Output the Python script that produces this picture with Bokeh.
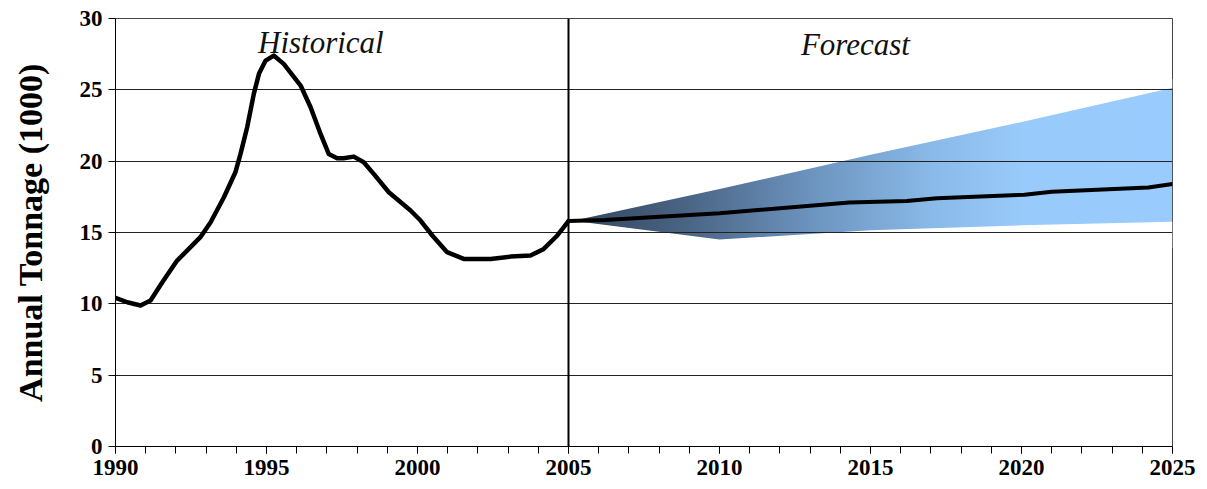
import numpy as np
from bokeh.plotting import figure
from bokeh.models import Span, Label, FixedTicker, Range1d
from bokeh.embed import file_html
from bokeh.resources import INLINE

# Historical annual tonnage (thousands)
hist_years = [1990.0, 1990.39, 1990.83, 1991.16, 1991.55, 1992.04, 1992.37, 1992.81,
              1993.15, 1993.59, 1993.97, 1994.14, 1994.36, 1994.58, 1994.75, 1994.97,
              1995.24, 1995.57, 1996.13, 1996.46, 1996.79, 1997.06, 1997.34, 1997.55,
              1997.89, 1998.22, 1998.55, 1999.05, 1999.77, 2000.1, 2000.49, 2000.98,
              2001.53, 2002.42, 2003.08, 2003.74, 2004.18, 2004.63, 2005.0]
hist_vals = [10.42, 10.11, 9.88, 10.23, 11.51, 13.03, 13.73, 14.67,
             15.72, 17.47, 19.22, 20.51, 22.38, 24.72, 26.12, 27.05,
             27.4, 26.82, 25.3, 23.78, 21.91, 20.51, 20.2, 20.2,
             20.32, 19.92, 19.11, 17.82, 16.54, 15.84, 14.79, 13.62,
             13.15, 13.15, 13.31, 13.38, 13.85, 14.79, 15.8]

# Forecast (central estimate)
fc_years = [2005.0, 2006.2, 2010.0, 2014.3, 2016.2, 2017.2, 2020.1, 2021.0, 2024.2, 2025.0]
fc_vals = [15.8, 15.88, 16.35, 17.1, 17.2, 17.4, 17.65, 17.85, 18.15, 18.4]

# Forecast uncertainty range
band_years = [2005, 2010, 2015, 2020, 2025]
band_high = [15.8, 18.1, 20.5, 22.8, 25.2]
band_low = [15.8, 14.45, 15.1, 15.45, 15.7]

x_ticks = [1990, 1995, 2000, 2005, 2010, 2015, 2020, 2025]
y_ticks = [0, 5, 10, 15, 20, 25, 30]
split_year = 2005

SERIF = "Liberation Serif"

p = figure(width=1207, height=489,
           x_range=Range1d(1990, 2025), y_range=Range1d(0, 30),
           output_backend="svg", toolbar_location=None,
           min_border_left=115, min_border_right=35,
           min_border_top=18, min_border_bottom=43)
p.background_fill_color = "white"
p.border_fill_color = "white"
p.outline_line_color = "#444444"
p.outline_line_width = 1

# Gradient fill for the forecast range: dark slate on the left fading to light blue
stop_pos = np.array([0.0, 0.2, 0.4, 0.6, 0.75, 1.0])
stop_rgb = np.array([[0x33, 0x45, 0x5d],
                     [0x4b, 0x66, 0x86],
                     [0x6c, 0x94, 0xbf],
                     [0x8a, 0xba, 0xe8],
                     [0x98, 0xca, 0xfb],
                     [0x9a, 0xcc, 0xff]], dtype=float)
ncol = 400
t = np.linspace(0, 1, ncol)
rgba = np.zeros((2, ncol, 4), dtype=np.uint8)
for c in range(3):
    rgba[:, :, c] = np.interp(t, stop_pos, stop_rgb[:, c]).astype(np.uint8)
rgba[:, :, 3] = 255
img = rgba.view(dtype=np.uint32).reshape((2, ncol))

y_bot = min(band_low)
y_top = max(band_high)
x0 = band_years[0]
x1 = band_years[-1]
pad = 1.0
p.image_rgba(image=[img], x=x0, y=y_bot, dw=x1 - x0, dh=y_top - y_bot, level="image")

# Trim the gradient to the band shape
p.patch(band_years + [x1 + pad, x1 + pad, x0],
        band_high + [band_high[-1], y_top + 0.5, y_top + 0.5],
        fill_color="white", line_color="white", line_width=1.5, level="image")
p.patch(band_years + [x1 + pad, x1 + pad, x0],
        band_low + [band_low[-1], y_bot - 0.5, y_bot - 0.5],
        fill_color="white", line_color="white", line_width=1.5, level="image")

# Grid
p.xgrid.grid_line_color = None
p.ygrid.grid_line_color = "#222222"
p.ygrid.grid_line_width = 1
p.ygrid.ticker = FixedTicker(ticks=y_ticks)

# Right-hand border of the plot area
p.add_layout(Span(location=x1, dimension="height", line_color="#444444", line_width=1))

# Divider between history and forecast
p.add_layout(Span(location=split_year, dimension="height",
                  line_color="black", line_width=2))

# Series
p.line(hist_years, hist_vals, line_color="black", line_width=4.5,
       line_join="round", line_cap="round")
p.line(fc_years, fc_vals, line_color="black", line_width=4,
       line_join="round", line_cap="round")

# Section labels
p.add_layout(Label(x=1996.8, y=28.35, text="Historical", text_align="center",
                   text_baseline="alphabetic", text_font=SERIF,
                   text_font_style="italic", text_font_size="31px", text_color="#111111"))
p.add_layout(Label(x=2014.5, y=28.15, text="Forecast", text_align="center",
                   text_baseline="alphabetic", text_font=SERIF,
                   text_font_style="italic", text_font_size="31px", text_color="#111111"))

# Axes
p.xaxis.ticker = FixedTicker(ticks=x_ticks, minor_ticks=list(range(1990, 2026)))
p.yaxis.ticker = FixedTicker(ticks=y_ticks, minor_ticks=[])
for ax in (p.xaxis[0], p.yaxis[0]):
    ax.axis_line_color = "black"
    ax.axis_line_width = 1
    ax.major_tick_line_color = "black"
    ax.major_tick_in = 0
    ax.major_tick_out = 7
    ax.minor_tick_line_color = "black"
    ax.minor_tick_in = 0
    ax.minor_tick_out = 7
    ax.major_label_text_font = SERIF
    ax.major_label_text_font_style = "bold"
    ax.major_label_text_font_size = "23px"
    ax.major_label_text_color = "black"
    ax.major_label_standoff = 6
p.yaxis.minor_tick_line_color = None
p.xaxis.major_label_overrides = {v: str(v) for v in x_ticks}

p.yaxis.axis_label = "Annual Tonnage (1000)"
p.yaxis.axis_label_text_font = SERIF
p.yaxis.axis_label_text_font_style = "bold"
p.yaxis.axis_label_text_font_size = "34px"
p.yaxis.axis_label_text_color = "black"
p.yaxis.axis_label_standoff = 28

open("out.html", "w").write(file_html(p, INLINE))
